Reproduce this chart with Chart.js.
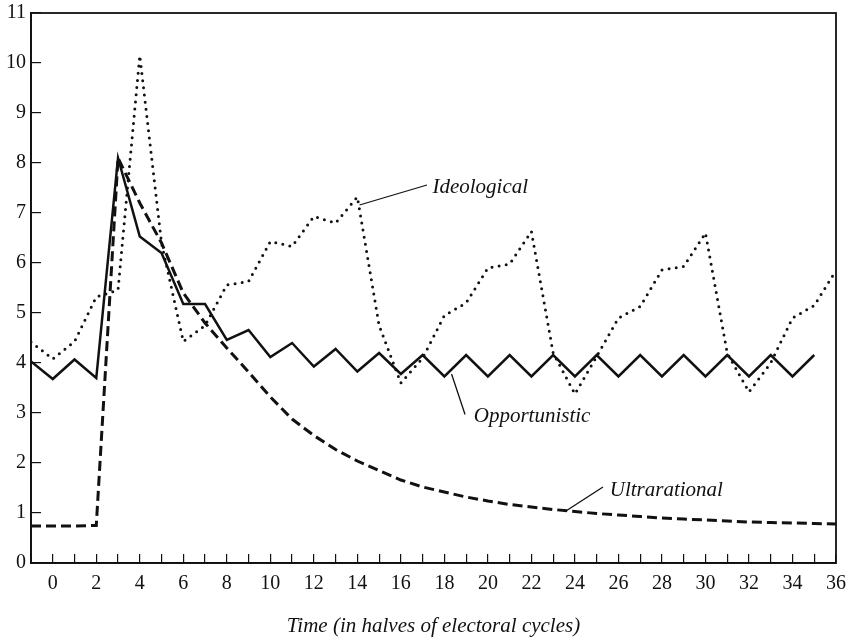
<!DOCTYPE html>
<html>
<head>
<meta charset="utf-8">
<script src="https://cdn.jsdelivr.net/npm/chart.js@4"></script>
<style>
  html, body { margin: 0; padding: 0; background: #fff; }
  #wrap { width: 853px; height: 641px; }
</style>
</head>
<body>
<div id="wrap"><canvas id="cycleChart" width="853" height="641"></canvas></div>
<script>
// Time axis, in halves of electoral cycles
const timeSteps = [-1, 0, 1, 2, 3, 4, 5, 6, 7, 8, 9, 10, 11, 12, 13, 14, 15, 16, 17, 18,
    19, 20, 21, 22, 23, 24, 25, 26, 27, 28, 29, 30, 31, 32, 33, 34, 35, 36];

// Opportunistic ends at t = 35
const opportunistic = [4.03, 3.68, 4.07, 3.70, 8.10, 6.53, 6.20, 5.18, 5.18, 4.46, 4.66, 4.12,
    4.40, 3.93, 4.28, 3.83, 4.20, 3.78, 4.16, 3.73, 4.16, 3.73, 4.16, 3.73, 4.16, 3.73,
    4.16, 3.73, 4.16, 3.73, 4.16, 3.73, 4.16, 3.73, 4.16, 3.73, 4.16];

const ideological = [4.42, 4.08, 4.43, 5.32, 5.46, 10.15, 6.40, 4.43, 4.75, 5.56, 5.63, 6.43,
    6.33, 6.93, 6.80, 7.32, 4.75, 3.60, 4.10, 4.95, 5.20, 5.90, 5.98, 6.63, 4.20, 3.38,
    4.13, 4.90, 5.13, 5.86, 5.93, 6.60, 4.20, 3.42, 4.00, 4.90, 5.15, 5.85];

const ultrarational = [0.74, 0.74, 0.74, 0.75, 8.10, 7.20, 6.40, 5.40, 4.80, 4.30, 3.82, 3.32,
    2.88, 2.55, 2.27, 2.04, 1.85, 1.66, 1.52, 1.42, 1.32, 1.24, 1.17, 1.12, 1.07, 1.03,
    0.99, 0.96, 0.93, 0.90, 0.88, 0.86, 0.84, 0.82, 0.81, 0.80, 0.79, 0.78];

// Curve labels: text anchor and leader line, in data coordinates
const curveLabels = [
    { text: 'Ideological', at: [17.45, 7.52], from: [14.1, 7.16], to: [17.2, 7.56] },
    { text: 'Opportunistic', at: [19.35, 2.93], from: [18.33, 3.78], to: [18.95, 2.97] },
    { text: 'Ultrarational', at: [25.6, 1.46], from: [23.62, 1.05], to: [25.29, 1.52] }
];

const serif = '"Liberation Serif", "DejaVu Serif", serif';

function toPoints(values) {
    return values.map((v, i) => ({ x: timeSteps[i], y: v }));
}

const frameAndLabels = {
    id: 'frameAndLabels',
    afterDatasetsDraw(chart) {
        const ctx = chart.ctx;
        const area = chart.chartArea;
        const xs = chart.scales.x;
        const ys = chart.scales.y;
        ctx.save();
        ctx.strokeStyle = '#111';
        ctx.lineWidth = 1.8;
        ctx.strokeRect(area.left, area.top, area.right - area.left, area.bottom - area.top);

        ctx.lineWidth = 1.3;
        ctx.fillStyle = '#111';
        ctx.font = 'italic 21px ' + serif;
        ctx.textAlign = 'left';
        ctx.textBaseline = 'middle';
        curveLabels.forEach(lbl => {
            ctx.beginPath();
            ctx.moveTo(xs.getPixelForValue(lbl.from[0]), ys.getPixelForValue(lbl.from[1]));
            ctx.lineTo(xs.getPixelForValue(lbl.to[0]), ys.getPixelForValue(lbl.to[1]));
            ctx.stroke();
            ctx.fillText(lbl.text, xs.getPixelForValue(lbl.at[0]), ys.getPixelForValue(lbl.at[1]));
        });
        ctx.restore();
    }
};

const ctx = document.getElementById('cycleChart').getContext('2d');
const cycleChart = new Chart(ctx, {
    type: 'line',
    data: {
        datasets: [{
            label: 'Ideological',
            data: toPoints(ideological),
            borderColor: '#111',
            borderWidth: 3,
            borderDash: [0, 7.2],
            borderCapStyle: 'round'
        }, {
            label: 'Ultrarational',
            data: toPoints(ultrarational),
            borderColor: '#111',
            borderWidth: 3,
            borderDash: [10, 5]
        }, {
            label: 'Opportunistic',
            data: toPoints(opportunistic),
            borderColor: '#111',
            borderWidth: 2.5,
            borderJoinStyle: 'miter'
        }]
    },
    options: {
        responsive: false,
        animation: false,
        events: [],
        elements: {
            point: { radius: 0 },
            line: { tension: 0, fill: false }
        },
        layout: { padding: { top: 13, right: 17, left: 0, bottom: 0 } },
        plugins: {
            legend: { display: false },
            tooltip: { enabled: false }
        },
        scales: {
            x: {
                type: 'linear',
                min: -1,
                max: 36,
                afterFit: scale => {
                    scale.height = 78;
                    scale.paddingLeft = 0;
                    scale.paddingRight = 0;
                },
                border: { display: true, color: '#111', width: 1.8 },
                grid: { drawOnChartArea: false, drawTicks: true, tickLength: -9, color: '#111', lineWidth: 1.2 },
                ticks: {
                    stepSize: 1,
                    autoSkip: false,
                    maxRotation: 0,
                    padding: 18,
                    color: '#111',
                    font: { family: serif, size: 20 },
                    callback: v => (v % 2 === 0 ? String(v) : '')
                },
                title: {
                    display: true,
                    text: 'Time (in halves of electoral cycles)',
                    color: '#111',
                    font: { family: serif, size: 21, style: 'italic' },
                    padding: { top: 0, bottom: 2 }
                }
            },
            y: {
                min: 0,
                max: 11,
                afterFit: scale => {
                    scale.width = 31;
                    scale.paddingTop = 0;
                    scale.paddingBottom = 0;
                },
                border: { display: true, color: '#111', width: 1.8 },
                grid: { drawOnChartArea: false, drawTicks: true, tickLength: -10, color: '#111', lineWidth: 1.2 },
                ticks: {
                    stepSize: 1,
                    padding: 15,
                    color: '#111',
                    font: { family: serif, size: 20 }
                }
            }
        }
    },
    plugins: [frameAndLabels]
});
</script>
</body>
</html>
